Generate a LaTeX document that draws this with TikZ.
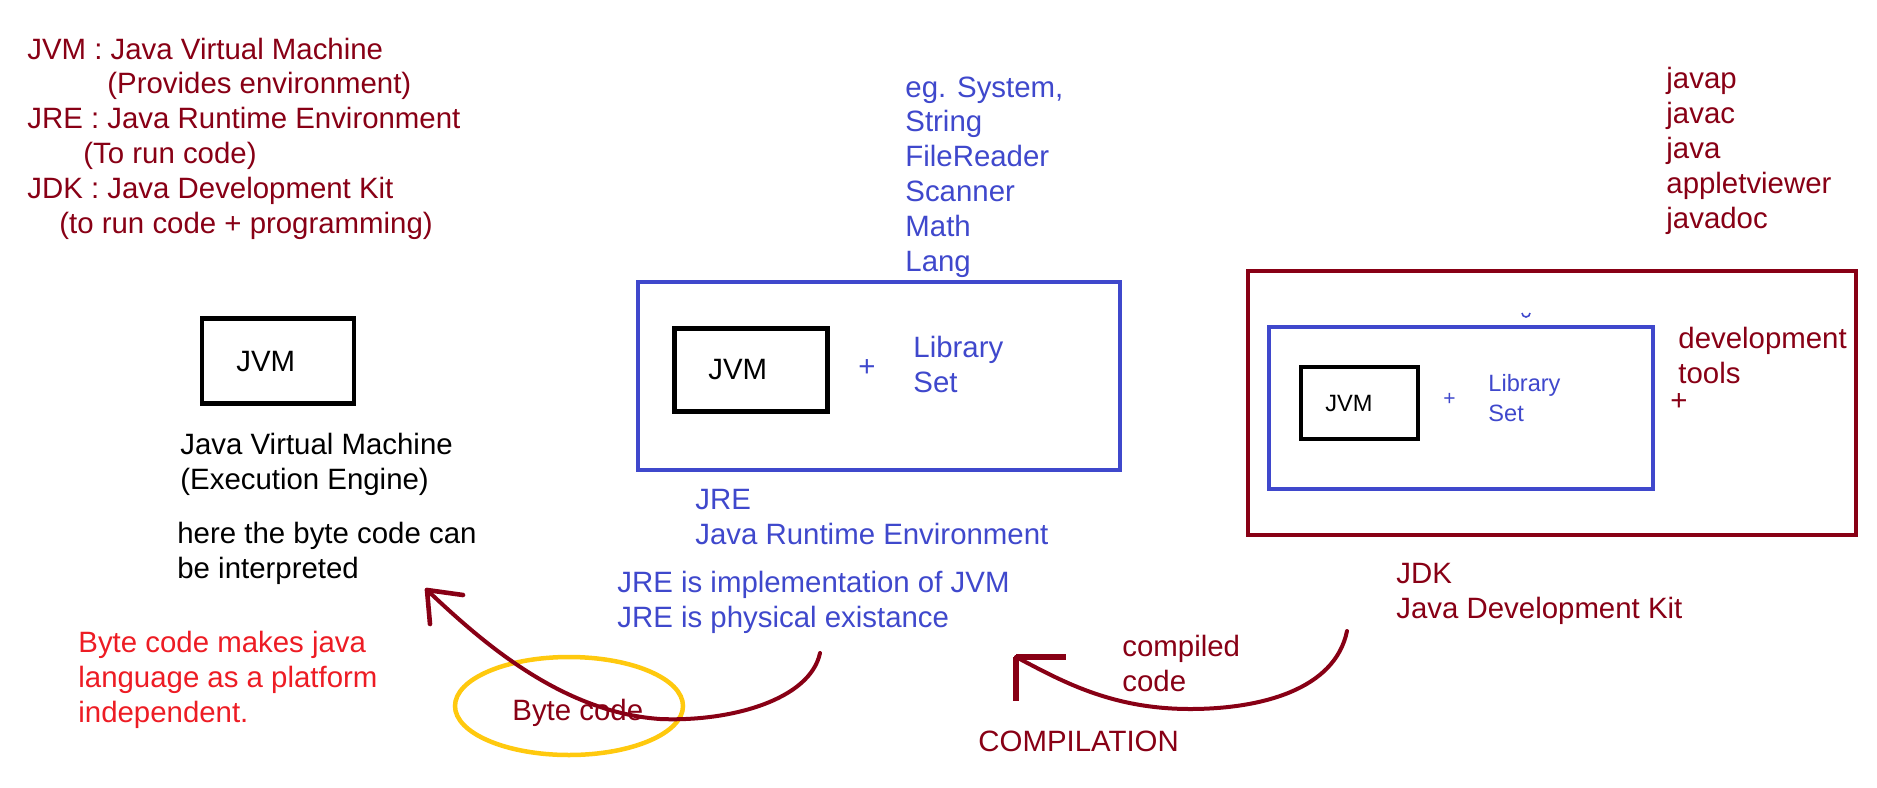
\documentclass[tikz,border=0pt]{standalone}
\usepackage{fontspec}
\setmainfont{Liberation Sans}
\usepackage{xcolor}
\usetikzlibrary{shapes.geometric}
\definecolor{darkred}{HTML}{880015}
\definecolor{jreblue}{HTML}{3F48CC}
\definecolor{alertred}{HTML}{ED1C24}
\definecolor{gold}{HTML}{FFC90E}

\begin{document}
\begin{tikzpicture}[x=0.5pt, y=-0.5pt,
        txt/.style={inner sep=0, anchor=base west, align=left,
            font=\fontsize{14.7}{17.4}\selectfont},
        small/.style={txt, font=\fontsize{11.8}{15}\selectfont},
        frame/.style={draw, rectangle, line width=2.25pt},
        hand/.style={darkred, line width=2pt, line cap=round, line join=round}]
            \useasboundingbox (0,0) rectangle (1877,787);

            % multi-line texts are placed at the baseline of their last line
            \node [txt, darkred] (legend) at (27,233) {JVM : Java Virtual Machine\\
                \hspace*{40pt}(Provides environment)\\
                JRE : Java Runtime Environment\\
                \hspace*{28pt}(To run code)\\
                JDK : Java Development Kit\\
                \hspace*{16pt}(to run code + programming)};

            \node [frame, minimum width=76pt, minimum height=42.5pt] (jvm) at (278,361) {};
            \node [txt] (jvmtxt) at (236,371) {JVM};
            \node [txt] (jvmname) at (180,489) {Java Virtual Machine\\(Execution Engine)};
            \node [txt] (interp) at (177,578) {here the byte code can\\be interpreted};
            \node [txt, alertred] (platform) at (78,722) {Byte code makes java\\language as a platform\\independent.};

            \node [draw=gold, ellipse, line width=2.25pt, minimum width=114pt,
                minimum height=49pt] (bytecode) at (569,706) {};
            \node [txt, darkred] (bytetxt) at (512,720) {Byte code};

            \node [txt, jreblue] (libs) at (905,271) {eg. System,\\String\\FileReader\\Scanner\\Math\\Lang};
            \node [frame, draw=jreblue, minimum width=241pt, minimum height=94pt] (jre) at (879,376) {};
            \node [frame, minimum width=76.5pt, minimum height=41.5pt] (jrejvm) at (751,370) {};
            \node [txt] (jrejvmtxt) at (708,379) {JVM};
            \node [txt, jreblue] (jreplus) at (858,376) {+};
            \node [txt, jreblue] (jrelib) at (913,392) {Library\\Set};
            \node [txt, jreblue] (jrename) at (695,544) {JRE\\Java Runtime Environment};
            \node [txt, jreblue] (jreimpl) at (617,627) {JRE is implementation of JVM\\JRE is physical existance};

            \node [txt, darkred] (tools) at (1666,228) {javap\\javac\\java\\appletviewer\\javadoc};
            \node [frame, draw=darkred, line width=2.1pt, minimum width=304pt, minimum height=132pt] (jdk) at (1552,403) {};
            \node [frame, draw=jreblue, line width=2pt, minimum width=192pt, minimum height=81pt] (jdkjre) at (1461,408) {};
            \draw [jreblue, line width=0.8pt] (1522,313) arc[start angle=180, end angle=0, radius=4];
            \node [frame, line width=2pt, minimum width=58.5pt, minimum height=36pt] (jdkjvm) at (1359,403) {};
            \node [small] (jdkjvmtxt) at (1325,411) {JVM};
            \node [small, jreblue, font=\fontsize{10.5}{12}\selectfont] (jdkplus) at (1443,405) {+};
            \node [small, jreblue] (jdklib) at (1488,421) {Library\\Set};
            \node [txt, darkred] (devtools) at (1678,383) {development\\tools};
            \node [txt, darkred] (devplus) at (1670,410) {+};
            \node [txt, darkred] (jdkname) at (1396,618) {JDK\\Java Development Kit};

            \node [txt, darkred] (compiled) at (1122,691) {compiled\\code};
            \node [txt, darkred] (compilation) at (978,751) {COMPILATION};

            \coordinate (bcstart) at (820,653);
            \coordinate (bcmid) at (660,719);
            \coordinate (bctip) at (427,590);
            \draw [hand] (bcstart) .. controls (810,700) and (730,722) .. (bcmid)
                .. controls (560,712) and (480,640) .. (bctip);
            \draw [hand, line width=2.3pt] (bctip) -- ++(3,34);
            \draw [hand, line width=2.3pt] (bctip) -- ++(36,5);

            \coordinate (cstart) at (1347,631);
            \coordinate (cmid) at (1190,709);
            \coordinate (ctip) at (1016,657);
            \draw [hand] (cstart) .. controls (1335,690) and (1260,709) .. (cmid)
                .. controls (1110,709) and (1060,680) .. (ctip);
            \draw [hand, line width=2.6pt, line cap=butt] (ctip) -- ++(0,44);
            \draw [hand, line width=2.6pt, line cap=butt] (ctip) -- ++(50,0);
        \end{tikzpicture}
\end{document}
